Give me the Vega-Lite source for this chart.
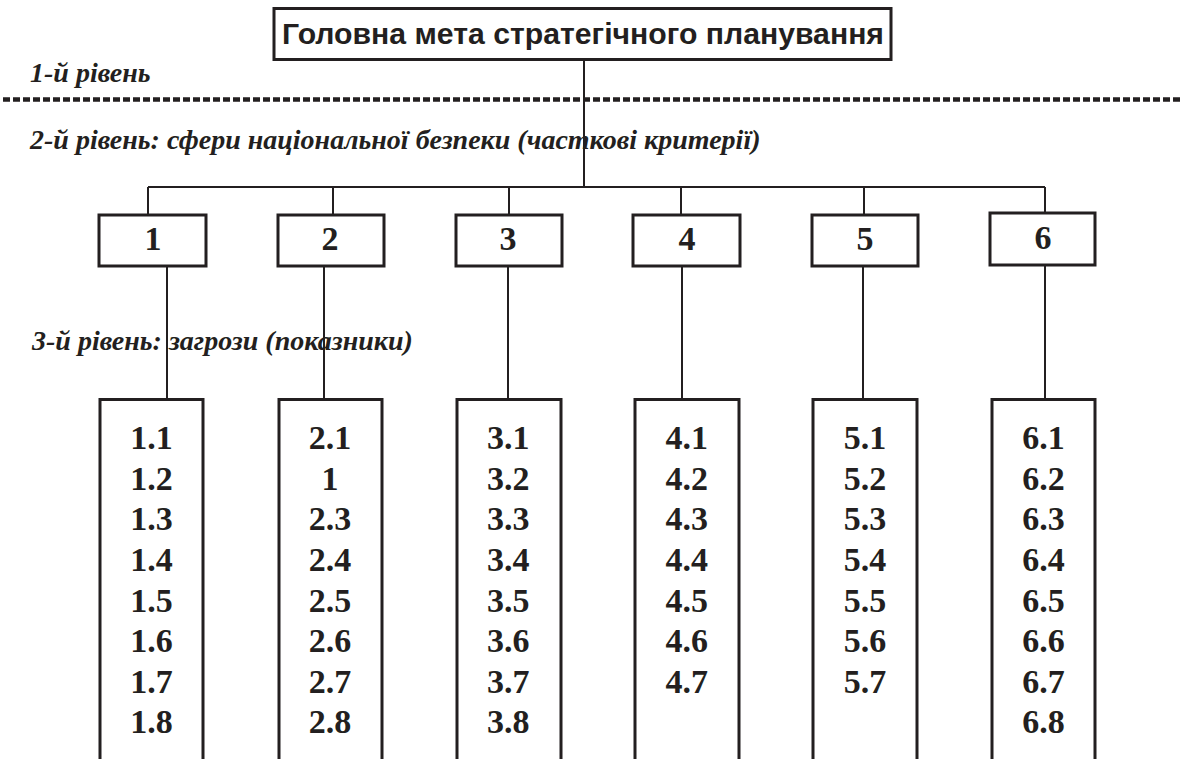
{
  "$schema": "https://vega.github.io/schema/vega-lite/v6.json",
  "width": 1189,
  "height": 759,
  "padding": 0,
  "autosize": {"type": "none"},
  "background": "white",
  "config": {"view": {"stroke": null}, "axis": {"disable": true}},
  "datasets": {
    "boxes": [
      {"part": "goal", "x0": 274, "x1": 891, "y0": 8.5, "y1": 59.5},
      {"part": "sphere 1", "x0": 99, "x1": 206, "y0": 215, "y1": 266},
      {"part": "sphere 2", "x0": 278, "x1": 384, "y0": 215, "y1": 266},
      {"part": "sphere 3", "x0": 456, "x1": 562, "y0": 215, "y1": 266},
      {"part": "sphere 4", "x0": 633, "x1": 740, "y0": 215, "y1": 266},
      {"part": "sphere 5", "x0": 812, "x1": 918, "y0": 215, "y1": 266},
      {"part": "sphere 6", "x0": 990, "x1": 1095, "y0": 213, "y1": 265},
      {"part": "threats 1", "x0": 100, "x1": 203, "y0": 399.5, "y1": 790},
      {"part": "threats 2", "x0": 279, "x1": 382, "y0": 399.5, "y1": 790},
      {"part": "threats 3", "x0": 457, "x1": 561, "y0": 399.5, "y1": 790},
      {"part": "threats 4", "x0": 635, "x1": 739, "y0": 399.5, "y1": 790},
      {"part": "threats 5", "x0": 813, "x1": 917, "y0": 399.5, "y1": 790},
      {"part": "threats 6", "x0": 992, "x1": 1095, "y0": 399.5, "y1": 790}
    ],
    "links": [
      {"x0": 584, "x1": 584, "y0": 60, "y1": 187},
      {"x0": 148, "x1": 1045, "y0": 187, "y1": 187},
      {"x0": 148, "x1": 148, "y0": 187, "y1": 214},
      {"x0": 333, "x1": 333, "y0": 187, "y1": 214},
      {"x0": 509, "x1": 509, "y0": 187, "y1": 214},
      {"x0": 681, "x1": 681, "y0": 187, "y1": 214},
      {"x0": 864, "x1": 864, "y0": 187, "y1": 214},
      {"x0": 1045, "x1": 1045, "y0": 187, "y1": 212},
      {"x0": 167, "x1": 167, "y0": 267, "y1": 399},
      {"x0": 324, "x1": 324, "y0": 267, "y1": 399},
      {"x0": 508, "x1": 508, "y0": 267, "y1": 399},
      {"x0": 682, "x1": 682, "y0": 267, "y1": 399},
      {"x0": 863, "x1": 863, "y0": 267, "y1": 399},
      {"x0": 1045, "x1": 1045, "y0": 266, "y1": 399}
    ],
    "divider": [{"x0": 3, "x1": 1182, "y0": 99.5, "y1": 99.5}],
    "title": [{"label": "Головна мета стратегічного планування", "x": 583, "y": 43.5}],
    "levels": [
      {"label": "1-й рівень", "x": 30, "y": 82},
      {"label": "2-й рівень: сфери національної безпеки (часткові критерії)", "x": 30, "y": 149},
      {"label": "3-й рівень:  загрози (показники)", "x": 32, "y": 350}
    ],
    "spheres": [
      {"label": "1", "x": 153, "y": 250},
      {"label": "2", "x": 330, "y": 250},
      {"label": "3", "x": 508, "y": 250},
      {"label": "4", "x": 687, "y": 250},
      {"label": "5", "x": 865, "y": 250},
      {"label": "6", "x": 1043, "y": 249}
    ],
    "threats": [
      {"sphere": 1, "item": 1, "label": "1.1"}, {"sphere": 1, "item": 2, "label": "1.2"},
      {"sphere": 1, "item": 3, "label": "1.3"}, {"sphere": 1, "item": 4, "label": "1.4"},
      {"sphere": 1, "item": 5, "label": "1.5"}, {"sphere": 1, "item": 6, "label": "1.6"},
      {"sphere": 1, "item": 7, "label": "1.7"}, {"sphere": 1, "item": 8, "label": "1.8"},
      {"sphere": 2, "item": 1, "label": "2.1"}, {"sphere": 2, "item": 2, "label": "1"},
      {"sphere": 2, "item": 3, "label": "2.3"}, {"sphere": 2, "item": 4, "label": "2.4"},
      {"sphere": 2, "item": 5, "label": "2.5"}, {"sphere": 2, "item": 6, "label": "2.6"},
      {"sphere": 2, "item": 7, "label": "2.7"}, {"sphere": 2, "item": 8, "label": "2.8"},
      {"sphere": 3, "item": 1, "label": "3.1"}, {"sphere": 3, "item": 2, "label": "3.2"},
      {"sphere": 3, "item": 3, "label": "3.3"}, {"sphere": 3, "item": 4, "label": "3.4"},
      {"sphere": 3, "item": 5, "label": "3.5"}, {"sphere": 3, "item": 6, "label": "3.6"},
      {"sphere": 3, "item": 7, "label": "3.7"}, {"sphere": 3, "item": 8, "label": "3.8"},
      {"sphere": 4, "item": 1, "label": "4.1"}, {"sphere": 4, "item": 2, "label": "4.2"},
      {"sphere": 4, "item": 3, "label": "4.3"}, {"sphere": 4, "item": 4, "label": "4.4"},
      {"sphere": 4, "item": 5, "label": "4.5"}, {"sphere": 4, "item": 6, "label": "4.6"},
      {"sphere": 4, "item": 7, "label": "4.7"},
      {"sphere": 5, "item": 1, "label": "5.1"}, {"sphere": 5, "item": 2, "label": "5.2"},
      {"sphere": 5, "item": 3, "label": "5.3"}, {"sphere": 5, "item": 4, "label": "5.4"},
      {"sphere": 5, "item": 5, "label": "5.5"}, {"sphere": 5, "item": 6, "label": "5.6"},
      {"sphere": 5, "item": 7, "label": "5.7"},
      {"sphere": 6, "item": 1, "label": "6.1"}, {"sphere": 6, "item": 2, "label": "6.2"},
      {"sphere": 6, "item": 3, "label": "6.3"}, {"sphere": 6, "item": 4, "label": "6.4"},
      {"sphere": 6, "item": 5, "label": "6.5"}, {"sphere": 6, "item": 6, "label": "6.6"},
      {"sphere": 6, "item": 7, "label": "6.7"}, {"sphere": 6, "item": 8, "label": "6.8"}
    ]
  },
  "layer": [
    {
      "layer": [
        {
          "data": {"name": "boxes"},
          "mark": {"type": "rect", "fill": "white", "stroke": "#231f20", "strokeWidth": 3, "clip": true},
          "encoding": {
            "x": {"field": "x0", "type": "quantitative", "scale": {"domain": [0, 1189], "range": [0, 1189], "nice": false, "zero": false}},
            "x2": {"field": "x1"},
            "y": {"field": "y0", "type": "quantitative", "scale": {"domain": [0, 759], "range": [0, 759], "nice": false, "zero": false}},
            "y2": {"field": "y1"}
          }
        },
        {
          "data": {"name": "divider"},
          "mark": {"type": "rule", "stroke": "#231f20", "strokeWidth": 4.5, "strokeDash": [7, 3]},
          "encoding": {
            "x": {"field": "x0", "type": "quantitative"},
            "x2": {"field": "x1"},
            "y": {"field": "y0", "type": "quantitative"},
            "y2": {"field": "y1"}
          }
        },
        {
          "data": {"name": "title"},
          "mark": {"type": "text", "font": "Liberation Sans", "fontWeight": "bold", "fontSize": 30.2, "align": "center", "baseline": "alphabetic", "fill": "#231f20"},
          "encoding": {
            "x": {"field": "x", "type": "quantitative"},
            "y": {"field": "y", "type": "quantitative"},
            "text": {"field": "label", "type": "nominal"}
          }
        },
        {
          "data": {"name": "levels"},
          "mark": {"type": "text", "font": "Liberation Serif", "fontWeight": "bold", "fontStyle": "italic", "fontSize": 28, "align": "left", "baseline": "alphabetic", "fill": "#231f20"},
          "encoding": {
            "x": {"field": "x", "type": "quantitative"},
            "y": {"field": "y", "type": "quantitative"},
            "text": {"field": "label", "type": "nominal"}
          }
        },
        {
          "data": {"name": "links"},
          "mark": {"type": "rule", "stroke": "#231f20", "strokeWidth": 2},
          "encoding": {
            "x": {"field": "x0", "type": "quantitative"},
            "x2": {"field": "x1"},
            "y": {"field": "y0", "type": "quantitative"},
            "y2": {"field": "y1"}
          }
        },
        {
          "data": {"name": "spheres"},
          "mark": {"type": "text", "font": "Liberation Serif", "fontWeight": "bold", "fontSize": 34, "align": "center", "baseline": "alphabetic", "fill": "#231f20"},
          "encoding": {
            "x": {"field": "x", "type": "quantitative"},
            "y": {"field": "y", "type": "quantitative"},
            "text": {"field": "label", "type": "nominal"}
          }
        }
      ]
    },
    {
      "data": {"name": "threats"},
      "mark": {"type": "text", "font": "Liberation Serif", "fontWeight": "bold", "fontSize": 34, "align": "center", "baseline": "alphabetic", "fill": "#231f20"},
      "encoding": {
        "x": {"field": "sphere", "type": "quantitative", "scale": {"domain": [1, 6], "range": [151.5, 1043.5], "nice": false, "zero": false}},
        "y": {"field": "item", "type": "quantitative", "scale": {"domain": [1, 8], "range": [449.3, 733.3], "nice": false, "zero": false}},
        "text": {"field": "label", "type": "nominal"}
      }
    }
  ],
  "resolve": {"scale": {"x": "independent", "y": "independent"}}
}
